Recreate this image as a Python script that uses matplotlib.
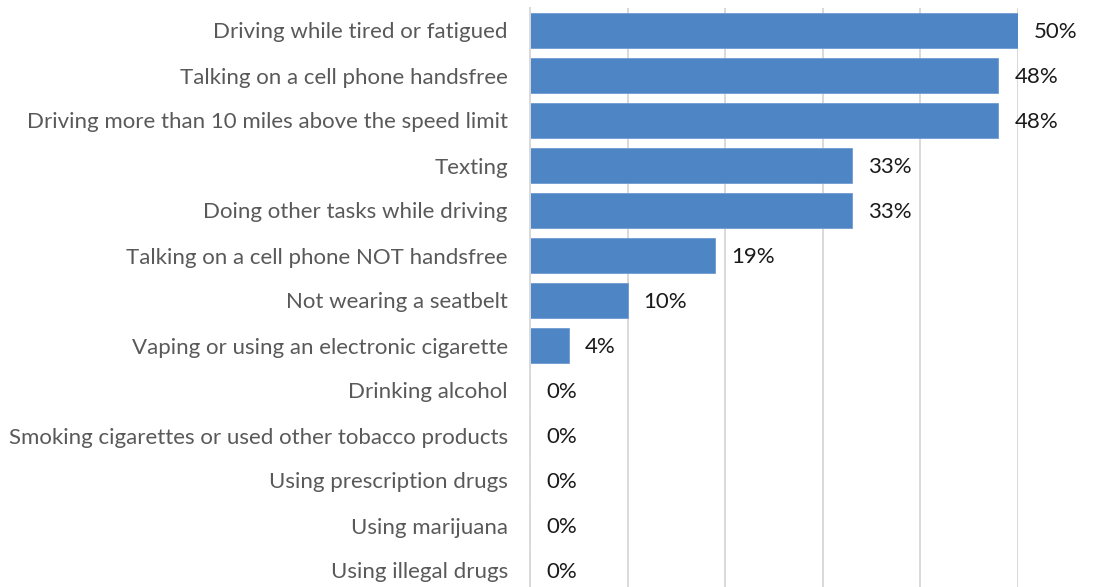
import matplotlib
matplotlib.use("Agg")
import matplotlib.pyplot as plt

categories = [
    "Driving while tired or fatigued",
    "Talking on a cell phone handsfree",
    "Driving more than 10 miles above the speed limit",
    "Texting",
    "Doing other tasks while driving",
    "Talking on a cell phone NOT handsfree",
    "Not wearing a seatbelt",
    "Vaping or using an electronic cigarette",
    "Drinking alcohol",
    "Smoking cigarettes or used other tobacco products",
    "Using prescription drugs",
    "Using marijuana",
    "Using illegal drugs",
]
percent = [50, 48, 48, 33, 33, 19, 10, 4, 0, 0, 0, 0, 0]
x_ticks = [0, 10, 20, 30, 40, 50]

plt.rcParams["font.family"] = ["Lato", "DejaVu Sans"]

W, H = 1106, 587
fig = plt.figure(figsize=(W / 100, H / 100), dpi=100)
left, right, top, bottom = 530, 1018, 8, 593
ax = fig.add_axes([left / W, (H - bottom) / H, (right - left) / W, (bottom - top) / H])

ypos = list(range(len(categories)))
ax.barh(ypos, percent, height=0.77, color="#4E85C5", edgecolor="#6F9BD2",
        linewidth=0.6, zorder=3)

for y, v in zip(ypos, percent):
    ax.annotate(f"{v}%", xy=(v, y), xytext=(11.5, -1), textcoords="offset points",
                ha="left", va="center", fontsize=16, color="#1a1a1a",
                annotation_clip=False, clip_on=False)

ax.set_xlim(0, 50)
ax.set_ylim(len(categories) - 0.5, -0.5)
ax.set_xticks(x_ticks)
ax.set_xticklabels([])
ax.set_yticks(ypos)
ax.set_yticklabels(categories, fontsize=16, color="#595959")
ax.tick_params(axis="both", length=0)
ax.tick_params(axis="y", pad=16)

ax.grid(axis="x", color="#D9D9D9", linewidth=1.4, zorder=0)
for s in ["top", "right", "bottom"]:
    ax.spines[s].set_visible(False)
ax.spines["left"].set_color("#D9D9D9")
ax.spines["left"].set_linewidth(1.4)
ax.spines["left"].set_zorder(4)

fig.savefig("out.png", dpi=100)
